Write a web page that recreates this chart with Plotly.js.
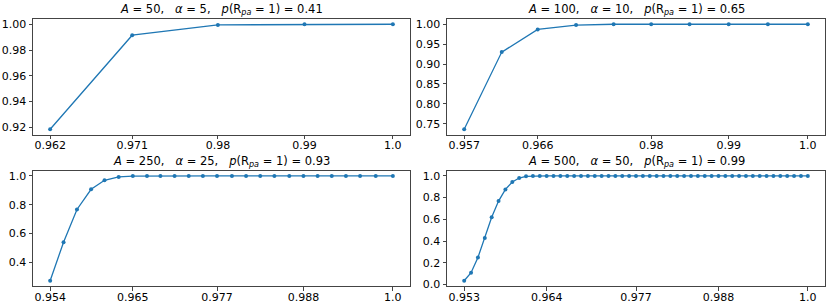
<!DOCTYPE html>
<html>
<head>
<meta charset="utf-8">
<script src="https://cdn.plot.ly/plotly-3.0.1.min.js"></script>
<style>html,body{margin:0;padding:0;background:#fff;}#chart{width:830px;height:307px;}</style>
</head>
<body>
<div id="chart"></div>
<script>
// ---- Data ----
const titlesText = [
  '<i>A</i> = 50,\u00a0\u00a0\u00a0<i>α</i> = 5,\u00a0\u00a0\u00a0<i>p</i>(R<sub><i>pa</i></sub> = 1) = 0.41',
  '<i>A</i> = 100,\u00a0\u00a0\u00a0<i>α</i> = 10,\u00a0\u00a0\u00a0<i>p</i>(R<sub><i>pa</i></sub> = 1) = 0.65',
  '<i>A</i> = 250,\u00a0\u00a0\u00a0<i>α</i> = 25,\u00a0\u00a0\u00a0<i>p</i>(R<sub><i>pa</i></sub> = 1) = 0.93',
  '<i>A</i> = 500,\u00a0\u00a0\u00a0<i>α</i> = 50,\u00a0\u00a0\u00a0<i>p</i>(R<sub><i>pa</i></sub> = 1) = 0.99'
];

const xA50 = [0.9620, 0.9711, 0.9806, 0.9902, 1.0000];
const yA50 = [0.9185, 0.9915, 0.9995, 1.0000, 1.0000];
const tickIdxA50 = [0, 1, 2, 3, 4];
const tickLblA50 = ['0.962', '0.971', '0.98', '0.99', '1.0'];

const xA100 = [0.9570, 0.9617, 0.9662, 0.9710, 0.9757, 0.9804, 0.9852, 0.9901, 0.9950, 1.0000];
const yA100 = [0.736, 0.930, 0.987, 0.998, 1.000, 1.000, 1.000, 1.000, 1.000, 1.000];
const tickIdxA100 = [0, 2, 5, 7, 9];
const tickLblA100 = ['0.957', '0.966', '0.98', '0.99', '1.0'];

const xA250 = [0.9540, 0.9558, 0.9576, 0.9595, 0.9613, 0.9632, 0.9651, 0.9670, 0.9688, 0.9707,
               0.9726, 0.9745, 0.9764, 0.9784, 0.9803, 0.9822, 0.9841, 0.9861, 0.9880, 0.9899,
               0.9918, 0.9937, 0.9956, 0.9977, 1.0000];
const yA250 = [0.272, 0.540, 0.767, 0.907, 0.970, 0.993, 0.999, 1.000, 1.000, 1.000,
               1.000, 1.000, 1.000, 1.000, 1.000, 1.000, 1.000, 1.000, 1.000, 1.000,
               1.000, 1.000, 1.000, 1.000, 1.000];
const tickIdxA250 = [0, 6, 12, 18, 24];
const tickLblA250 = ['0.954', '0.965', '0.977', '0.988', '1.0'];

const xA500 = [0.95300, 0.95394, 0.95488, 0.95582, 0.95676, 0.95770, 0.95864, 0.95958, 0.96052, 0.96146,
               0.96240, 0.96334, 0.96428, 0.96522, 0.96616, 0.96710, 0.96804, 0.96898, 0.96992, 0.97086,
               0.97180, 0.97274, 0.97368, 0.97462, 0.97556, 0.97650, 0.97744, 0.97838, 0.97932, 0.98026,
               0.98120, 0.98214, 0.98308, 0.98402, 0.98496, 0.98590, 0.98684, 0.98778, 0.98872, 0.98966,
               0.99060, 0.99154, 0.99248, 0.99342, 0.99436, 0.99530, 0.99624, 0.99718, 0.99812, 0.99906,
               1.00000];
const yA500 = [0.034, 0.108, 0.248, 0.427, 0.619, 0.768, 0.876, 0.944, 0.981, 0.996,
               0.999, 1.000, 1.000, 1.000, 1.000, 1.000, 1.000, 1.000, 1.000, 1.000,
               1.000, 1.000, 1.000, 1.000, 1.000, 1.000, 1.000, 1.000, 1.000, 1.000,
               1.000, 1.000, 1.000, 1.000, 1.000, 1.000, 1.000, 1.000, 1.000, 1.000,
               1.000, 1.000, 1.000, 1.000, 1.000, 1.000, 1.000, 1.000, 1.000, 1.000,
               1.000];
const tickIdxA500 = [0, 12, 25, 37, 50];
const tickLblA500 = ['0.953', '0.964', '0.977', '0.988', '1.0'];

const yDtick = [0.02, 0.05, 0.2, 0.2];
const yFmt = ['.2f', '.2f', '.1f', '.1f'];

// ---- Build ----
const panels = [
  {x: xA50, y: yA50, ti: tickIdxA50, tl: tickLblA50},
  {x: xA100, y: yA100, ti: tickIdxA100, tl: tickLblA100},
  {x: xA250, y: yA250, ti: tickIdxA250, tl: tickLblA250},
  {x: xA500, y: yA500, ti: tickIdxA500, tl: tickLblA500}
];

const W = 830, H = 307;
const colX = [[33 / W, 410 / W], [447 / W, 825 / W]];
const rowY = [[1 - 134.5 / H, 1 - 19 / H], [1 - 286 / H, 1 - 170.7 / H]];

function pad(arr) {
  const mn = Math.min(...arr), mx = Math.max(...arr), s = mx - mn;
  return [mn - 0.05 * s, mx + 0.05 * s];
}

const data = [];
const layout = {
  width: W, height: H, autosize: false,
  margin: {l: 0, r: 0, t: 0, b: 0, pad: 0},
  paper_bgcolor: '#fff', plot_bgcolor: '#fff',
  showlegend: false,
  font: {family: 'DejaVu Sans', size: 11, color: '#000'},
  annotations: []
};

panels.forEach((p, i) => {
  const n = i + 1;
  const xa = 'x' + (n === 1 ? '' : n);
  const ya = 'y' + (n === 1 ? '' : n);
  data.push({
    type: 'scatter', mode: 'lines+markers',
    x: p.x, y: p.y, xaxis: xa, yaxis: ya,
    line: {color: '#1f77b4', width: 1.3},
    marker: {color: '#1f77b4', size: 4},
    hoverinfo: 'skip'
  });
  const c = i % 2, r = Math.floor(i / 2);
  const axCommon = {
    showgrid: false, zeroline: false, showline: true, mirror: true,
    linecolor: '#444', linewidth: 1,
    ticks: 'outside', ticklen: 3.5, tickwidth: 1, tickcolor: '#444',
    tickfont: {family: 'DejaVu Sans', size: 11, color: '#000'},
    fixedrange: true
  };
  layout['xaxis' + (n === 1 ? '' : n)] = Object.assign({}, axCommon, {
    domain: colX[c], anchor: ya, range: pad(p.x),
    tickmode: 'array', tickvals: p.ti.map(k => p.x[k]), ticktext: p.tl,
    ticklabelstandoff: -3
  });
  layout['yaxis' + (n === 1 ? '' : n)] = Object.assign({}, axCommon, {
    domain: rowY[r], anchor: xa, range: pad(p.y),
    tickmode: 'linear', dtick: yDtick[i], tick0: 0, tickformat: yFmt[i]
  });
  layout.annotations.push({
    text: titlesText[i], xref: 'paper', yref: 'paper',
    x: (colX[c][0] + colX[c][1]) / 2, y: rowY[r][1],
    xanchor: 'center', yanchor: 'bottom', yshift: 0, showarrow: false,
    font: {family: 'DejaVu Sans', size: 11.5, color: '#000'}
  });
});

Plotly.newPlot('chart', data, layout, {staticPlot: true, displayModeBar: false});
</script>
</body>
</html>
